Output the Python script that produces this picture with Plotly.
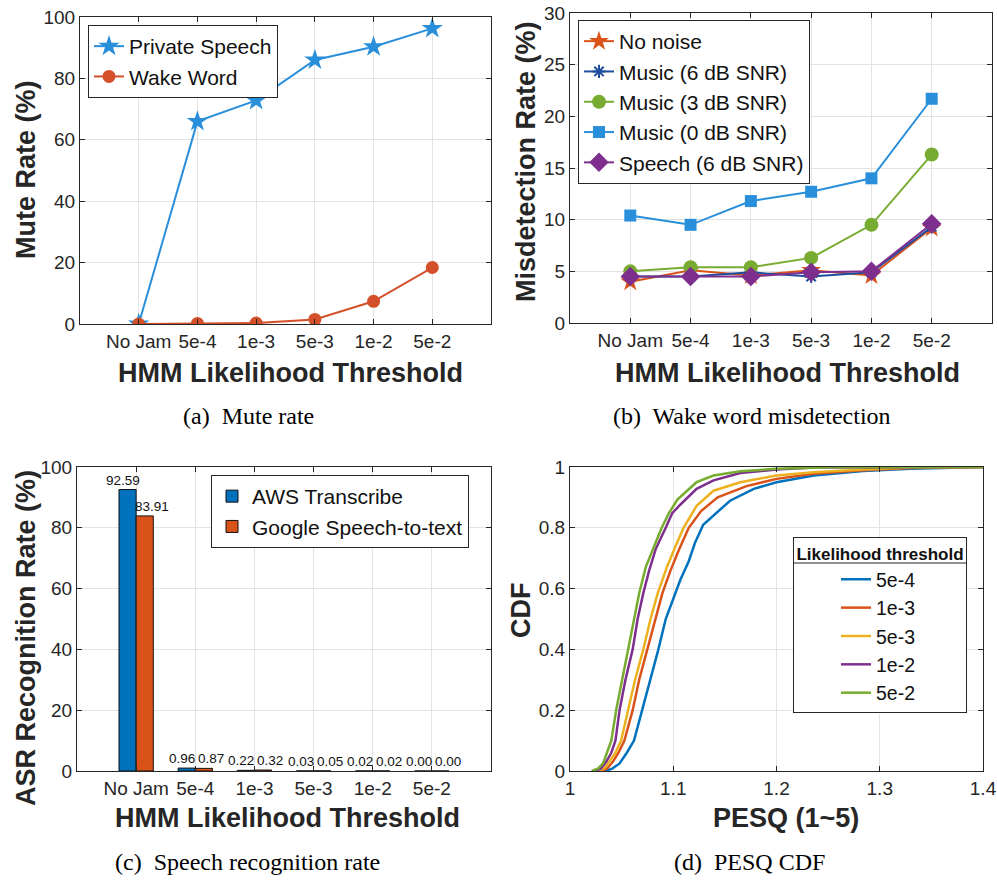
import plotly.graph_objects as go

W, H = 997, 880

# ---------------- data ----------------
categories = ["No Jam", "5e-4", "1e-3", "5e-3", "1e-2", "5e-2"]

mute_private = [0.0, 66.0, 72.8, 86.0, 90.3, 96.3]
mute_wake = [0.0, 0.2, 0.3, 1.5, 7.4, 18.4]

mis_no_noise = [4.0, 5.1, 4.6, 5.1, 4.6, 9.2]
mis_music6 = [4.5, 4.5, 4.9, 4.5, 4.9, 9.3]
mis_music3 = [5.0, 5.4, 5.4, 6.3, 9.5, 16.3]
mis_music0 = [10.4, 9.5, 11.8, 12.7, 14.0, 21.7]
mis_speech6 = [4.5, 4.5, 4.5, 4.9, 5.0, 9.6]

asr_aws = [92.59, 0.96, 0.22, 0.03, 0.02, 0.00]
asr_google = [83.91, 0.87, 0.32, 0.05, 0.02, 0.00]

pesq_5e4_x = [1.034, 1.041, 1.048, 1.055, 1.062, 1.070, 1.078, 1.0856, 1.0927, 1.099, 1.107,
              1.115, 1.121, 1.129, 1.139, 1.155, 1.178, 1.200, 1.236, 1.284, 1.330, 1.400]
pesq_5e4_y = [0.0, 0.008, 0.025, 0.06, 0.10, 0.20, 0.30, 0.40, 0.50, 0.56, 0.63,
              0.69, 0.75, 0.81, 0.84, 0.889, 0.928, 0.950, 0.972, 0.987, 0.994, 1.0]
pesq_1e3_x = [1.030, 1.036, 1.0415, 1.047, 1.0527, 1.0607, 1.067, 1.075, 1.0824, 1.0895, 1.0974,
              1.1054, 1.115, 1.127, 1.143, 1.171, 1.200, 1.236, 1.284, 1.330, 1.400]
pesq_1e3_y = [0.0, 0.008, 0.03, 0.06, 0.10, 0.20, 0.30, 0.40, 0.50, 0.585, 0.66,
              0.727, 0.80, 0.855, 0.90, 0.937, 0.961, 0.978, 0.989, 0.997, 1.0]
pesq_5e3_x = [1.028, 1.033, 1.038, 1.044, 1.0495, 1.056, 1.063, 1.071, 1.078, 1.085, 1.094,
              1.102, 1.110, 1.1226, 1.139, 1.165, 1.200, 1.236, 1.284, 1.330, 1.400]
pesq_5e3_y = [0.0, 0.008, 0.03, 0.06, 0.10, 0.20, 0.30, 0.40, 0.50, 0.585, 0.672,
              0.738, 0.80, 0.872, 0.922, 0.950, 0.972, 0.983, 0.992, 0.998, 1.0]
pesq_1e2_x = [1.024, 1.030, 1.035, 1.040, 1.044, 1.048, 1.0537, 1.0607, 1.0655, 1.071, 1.0767,
              1.083, 1.0927, 1.099, 1.1065, 1.1226, 1.139, 1.165, 1.200, 1.236, 1.400]
pesq_1e2_y = [0.0, 0.008, 0.03, 0.06, 0.10, 0.20, 0.30, 0.40, 0.50, 0.585, 0.66,
              0.73, 0.80, 0.848, 0.875, 0.928, 0.956, 0.980, 0.992, 0.998, 1.0]
pesq_5e2_x = [1.021, 1.027, 1.032, 1.036, 1.040, 1.0447, 1.0505, 1.0569, 1.0623, 1.067, 1.0735,
              1.080, 1.0888, 1.0958, 1.104, 1.1226, 1.139, 1.165, 1.200, 1.252, 1.400]
pesq_5e2_y = [0.0, 0.008, 0.025, 0.06, 0.10, 0.20, 0.30, 0.40, 0.50, 0.585, 0.672,
              0.727, 0.80, 0.848, 0.893, 0.950, 0.972, 0.986, 0.994, 0.999, 1.0]

pesq_series = [
    ("5e-4", pesq_5e4_x, pesq_5e4_y, "#0072BD"),
    ("1e-3", pesq_1e3_x, pesq_1e3_y, "#D95319"),
    ("5e-3", pesq_5e3_x, pesq_5e3_y, "#EDB120"),
    ("1e-2", pesq_1e2_x, pesq_1e2_y, "#7E2F8E"),
    ("5e-2", pesq_5e2_x, pesq_5e2_y, "#77AC30"),
]

# ---------------- helpers ----------------
def px(x):
    return x / W


def py(y):
    return 1 - y / H


SANS = "Liberation Sans, Arial, sans-serif"
SERIF = "Liberation Serif, Times New Roman, serif"
AXC = "#262626"


def axis(domain, **kw):
    d = dict(domain=domain, showline=True, mirror="ticks", linecolor=AXC, linewidth=1,
             ticks="inside", ticklen=5, tickcolor=AXC, tickwidth=1,
             showgrid=True, gridcolor="#e3e3e3", gridwidth=1, zeroline=False,
             automargin=False,
             tickfont=dict(family=SANS, size=19, color=AXC), fixedrange=True)
    d.update(kw)
    return d


fig = go.Figure()

# ---------------- (a) ----------------
fig.add_trace(go.Scatter(x=categories, y=mute_private, name="Private Speech", mode="lines+markers",
                         line=dict(color="#2A8FDB", width=2),
                         marker=dict(symbol="star", size=16, color="#2A8FDB"),
                         xaxis="x", yaxis="y", legend="legend"))
fig.add_trace(go.Scatter(x=categories, y=mute_wake, name="Wake Word", mode="lines+markers",
                         line=dict(color="#D4502A", width=2),
                         marker=dict(symbol="circle", size=13, color="#D4502A"),
                         xaxis="x", yaxis="y", legend="legend"))

# ---------------- (b) ----------------
b_series = [
    ("No noise", mis_no_noise, "#D95319", "star", 15),
    ("Music (6 dB SNR)", mis_music6, "#1F4E9E", "asterisk-open", 11),
    ("Music (3 dB SNR)", mis_music3, "#77AC30", "circle", 14),
    ("Music (0 dB SNR)", mis_music0, "#2A8FDB", "square", 12),
    ("Speech (6 dB SNR)", mis_speech6, "#7E2F8E", "diamond", 15),
]
for name, vals, col, sym, sz in b_series:
    fig.add_trace(go.Scatter(x=categories, y=vals, name=name, mode="lines+markers",
                             line=dict(color=col, width=2),
                             marker=dict(symbol=sym, size=sz, color=col,
                                         line=dict(color=col, width=2 if sym == "asterisk-open" else 0)),
                             xaxis="x2", yaxis="y2", legend="legend2"))

# ---------------- (c) ----------------
fig.add_trace(go.Bar(x=categories, y=asr_aws, name="AWS Transcribe", width=0.29, offset=-0.29,
                     marker=dict(color="#0072BD", line=dict(color="#111111", width=1)),
                     xaxis="x3", yaxis="y3", legend="legend3"))
fig.add_trace(go.Bar(x=categories, y=asr_google, name="Google Speech-to-text", width=0.29, offset=0.0,
                     marker=dict(color="#D95319", line=dict(color="#111111", width=1)),
                     xaxis="x3", yaxis="y3", legend="legend3"))

lab_font = dict(family=SANS, size=13.5, color="#111111")
for i, (va, vg) in enumerate(zip(asr_aws, asr_google)):
    fig.add_annotation(x=i, y=va, xref="x3", yref="y3", text=f"{va:.2f}", showarrow=False,
                       xanchor="center", yanchor="bottom", xshift=-13, yshift=0, font=lab_font)
    fig.add_annotation(x=i, y=vg, xref="x3", yref="y3", text=f"{vg:.2f}", showarrow=False,
                       xanchor="center", yanchor="bottom", xshift=16, yshift=0, font=lab_font)

# ---------------- (d) ----------------
for name, xs, ys, col in pesq_series:
    fig.add_trace(go.Scatter(x=xs, y=ys, name=name, mode="lines",
                             line=dict(color=col, width=2.5),
                             xaxis="x4", yaxis="y4", legend="legend4"))

# ---------------- layout ----------------
dom_a_x = [px(80), px(491)]
dom_a_y = [py(324), py(17)]
dom_b_x = [px(570), px(992)]
dom_b_y = [py(323), py(13)]
dom_c_x = [px(77), px(491)]
dom_c_y = [py(771), py(467)]
dom_d_x = [px(570), px(983)]
dom_d_y = [py(771), py(467)]


def leg(x, y, size=21, **kw):
    d = dict(x=px(x), y=py(y), font=dict(family=SANS, size=size, color="#111111"), bgcolor="white",
             bordercolor=AXC, borderwidth=1, xanchor="left", yanchor="top", tracegroupgap=0)
    d.update(kw)
    return d


fig.update_layout(
    width=W, height=H, autosize=False,
    margin=dict(l=0, r=0, t=0, b=0, pad=0, autoexpand=False),
    paper_bgcolor="white", plot_bgcolor="white",
    barmode="overlay",
    xaxis=axis(dom_a_x, anchor="y", type="category", range=[-1, 6]),
    yaxis=axis(dom_a_y, anchor="x", range=[0, 100], dtick=20),
    xaxis2=axis(dom_b_x, anchor="y2", type="category", range=[-1, 6]),
    yaxis2=axis(dom_b_y, anchor="x2", range=[0, 30], dtick=5),
    xaxis3=axis(dom_c_x, anchor="y3", type="category", range=[-1, 6]),
    yaxis3=axis(dom_c_y, anchor="x3", range=[0, 100], dtick=20),
    xaxis4=axis(dom_d_x, anchor="y4", range=[1, 1.4], dtick=0.1),
    yaxis4=axis(dom_d_y, anchor="x4", range=[0, 1], dtick=0.2),
    legend=leg(88, 25),
    legend2=leg(578, 20),
    legend3=leg(211, 475),
    legend4=leg(793, 537, size=19.5, indentation=42, bgcolor="rgba(0,0,0,0)",
                title=dict(text="<b>Likelihood threshold</b>", side="top center",
                           font=dict(family=SANS, size=17, color="#111111"))),
)

title_font = dict(family=SANS, size=27, color=AXC)
cap_font = dict(family=SERIF, size=24, color="#000000")


def ann(text, x, y, font, angle=0):
    fig.add_annotation(text=text, x=px(x), y=py(y), xref="paper", yref="paper",
                       xanchor="center", yanchor="middle", showarrow=False,
                       textangle=angle, font=font)


ann("<b>HMM Likelihood Threshold</b>", 290, 373, title_font)
ann("<b>Mute Rate (%)</b>", 26, 170, title_font, -90)
ann("<b>HMM Likelihood Threshold</b>", 787, 373, title_font)
ann("<b>Misdetection Rate (%)</b>", 526, 162, title_font, -90)
ann("<b>HMM Likelihood Threshold</b>", 287, 818, title_font)
ann("<b>ASR Recognition Rate (%)</b>", 26, 638, title_font, -90)
ann("<b>PESQ (1~5)</b>", 786, 818, title_font)
ann("<b>CDF</b>", 521, 610, title_font, -90)

ann("(a)\u00a0 Mute rate", 248, 416, cap_font)
ann("(b)\u00a0 Wake word misdetection", 752, 416, cap_font)
ann("(c)\u00a0 Speech recognition rate", 247, 862, cap_font)
ann("(d)\u00a0 PESQ CDF", 749, 862, cap_font)

# white backing for the (d) legend plus the separator under its title
fig.add_shape(type="rect", xref="paper", yref="paper", x0=px(793), x1=px(966),
              y0=py(714), y1=py(537), fillcolor="white", line=dict(width=0), layer="above")
fig.add_shape(type="line", xref="paper", yref="paper", x0=px(793), x1=px(966),
              y0=py(563), y1=py(563), line=dict(color=AXC, width=1), layer="above")

fig.write_html("out.html", config={"displayModeBar": False},
               post_script="document.body.style.margin='0';document.body.style.padding='0';")
